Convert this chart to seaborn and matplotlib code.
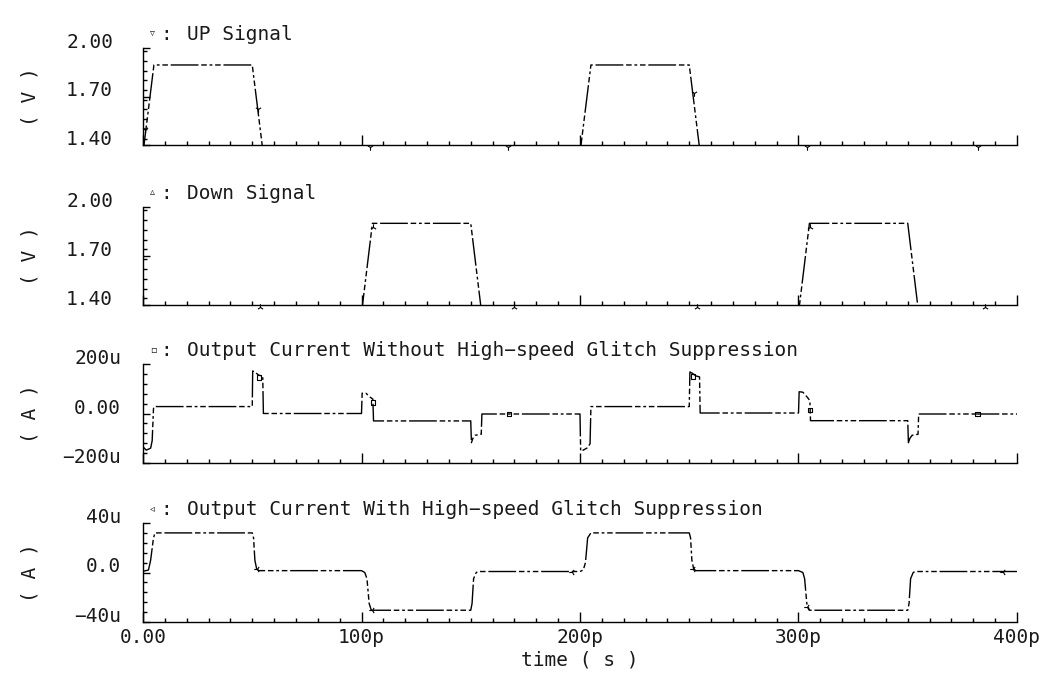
import matplotlib
matplotlib.use("Agg")
import matplotlib.pyplot as plt
import seaborn as sns
from matplotlib.ticker import MultipleLocator

# time in ps
up_t = [0, 5, 50, 55, 200, 205, 250, 255, 400]
up_v = [1.35, 1.895, 1.895, 1.35, 1.35, 1.895, 1.895, 1.35, 1.35]
up_mk_t = [1, 52.6, 104, 167, 252, 304, 382]
up_mk_v = [1.50, 1.62, 1.39, 1.39, 1.72, 1.39, 1.39]

dn_t = [0, 100, 105, 150, 155, 300, 305, 350, 355, 400]
dn_v = [1.35, 1.35, 1.90, 1.90, 1.35, 1.35, 1.90, 1.90, 1.35, 1.35]
dn_mk_t = [53.5, 105.3, 170, 253.5, 305.3, 385.5]
dn_mk_v = [1.39, 1.88, 1.39, 1.39, 1.88, 1.39]

# output current, uA
raw_t = [0, 1.5, 3.5, 4.2, 4.8, 5.2, 50, 50.2, 51.5, 53, 54.8, 55.1, 100, 100.3, 102,
         104, 105.2, 105.5, 150, 150.3, 151, 152, 154.8, 155.1, 200, 200.3, 201.5, 203.5,
         204.6, 205, 250, 250.3, 251.5, 253, 254.7, 255, 300, 300.3, 302, 304, 305.2,
         305.5, 350, 350.3, 351, 352, 354.7, 355, 400]
raw_i = [-135, -148, -140, -110, 20, 28, 28, 172, 165, 155, 150, 0, 0, 82, 82,
         66, 58, -30, -30, -118, -100, -88, -84, -2, -2, -152, -148, -138,
         -122, 28, 28, 168, 162, 152, 148, 2, 2, 88, 86, 66, 52,
         -29, -29, -118, -100, -88, -84, -2, -2]
raw_mk_t = [53, 105.3, 167.5, 251.7, 305.3, 382]
raw_mk_i = [145, 45, -2, 150, 15, -2]

sup_t = [0, 2.5, 3.5, 4.8, 5.5, 50, 50.6, 51.2, 52, 53, 100, 101.5, 102.5, 103.5,
         104.5, 150, 150.6, 151.3, 152.5, 153.5, 200, 201.5, 202.5, 203.5, 205, 250,
         250.6, 251.2, 252, 253, 300, 302, 302.8, 303.8, 305, 350, 350.6, 351.3,
         352.5, 353.5, 400]
sup_i = [1, 2, 10, 28, 32, 32, 28, 10, 3, 1.5, 1.5, 0, -5, -25,
         -30.5, -30.5, -25, -5, 0, 0.8, 0.8, 2, 8, 28, 32, 32,
         28, 10, 3, 1.5, 1.5, 0, -5, -25, -30.5, -30.5, -25, -5,
         0, 0.8, 0.8]
sup_mk_t = [52.2, 104.8, 196.3, 251.7, 303.9, 393.6]
sup_mk_i = [2.8, -30.5, 0.4, 2.8, -28, 0.4]

time_ticks = [0, 100, 200, 300, 400]
time_labels = ["0.00", "100p", "200p", "300p", "400p"]

sns.set_style("ticks")
plt.rcParams["font.family"] = ["DejaVu Sans Mono", "DejaVu Sans"]
plt.rcParams["font.size"] = 14
plt.rcParams["text.color"] = "#1a1a1a"

W, H = 1051, 677
fig = plt.figure(figsize=(W / 100, H / 100), dpi=100)
fig.patch.set_facecolor("white")

dash = (0, (20, 2, 4, 2, 2, 2, 4, 2))

panels = [
    dict(top=48, bot=145, t=up_t, y=up_v, mt=up_mk_t, my=up_mk_v, mk="1",
         lim=(1.40, 2.00), ticks=[1.40, 1.70, 2.00], labels=["1.40", "1.70", "2.00"],
         title="UP Signal", sym="\u25bf", unit="( V )", pad=21.6),
    dict(top=207, bot=305, t=dn_t, y=dn_v, mt=dn_mk_t, my=dn_mk_v, mk="2",
         lim=(1.40, 2.00), ticks=[1.40, 1.70, 2.00], labels=["1.40", "1.70", "2.00"],
         title="Down Signal", sym="\u25b5", unit="( V )", pad=21.6),
    dict(top=364, bot=463, t=raw_t, y=raw_i, mt=raw_mk_t, my=raw_mk_i, mk="s",
         lim=(-200, 200), ticks=[-200, 0, 200], labels=["\u2212200u", "0.00", "200u"],
         title="Output Current Without High\u2212speed Glitch Suppression", sym="\u25ab",
         unit="( A )", pad=15.8),
    dict(top=523, bot=622, t=sup_t, y=sup_i, mt=sup_mk_t, my=sup_mk_i, mk="3",
         lim=(-40, 40), ticks=[-40, 0, 40], labels=["\u221240u", "0.0", "40u"],
         title="Output Current With High\u2212speed Glitch Suppression", sym="\u25c3",
         unit="( A )", pad=15.8),
]

left, right = 143, 1017
for k, p in enumerate(panels):
    ax = fig.add_axes([left / W, 1 - p["bot"] / H, (right - left) / W,
                       (p["bot"] - p["top"]) / H])
    sns.lineplot(x=p["t"], y=p["y"], ax=ax, color="black", linewidth=1.0,
                 linestyle=dash, estimator=None, sort=False)
    if p["mk"] == "s":
        sns.scatterplot(x=p["mt"], y=p["my"], ax=ax, marker="s", s=10,
                        facecolor="none", edgecolor="black", linewidth=0.8,
                        clip_on=False, zorder=5)
    else:
        sns.scatterplot(x=p["mt"], y=p["my"], ax=ax, marker=p["mk"], s=22,
                        color="black", linewidth=0.8, clip_on=False, zorder=5)

    ax.set_xlim(0, 400)
    ax.set_ylim(*p["lim"])
    lo, hi = p["lim"]
    ax.set_yticks(p["ticks"], labels=p["labels"])
    ax.yaxis.set_minor_locator(MultipleLocator((hi - lo) / 10))
    ax.xaxis.set_minor_locator(MultipleLocator(10))
    if k == 3:
        ax.set_xticks(time_ticks, labels=time_labels)
    else:
        ax.set_xticks(time_ticks, labels=[""] * 5)

    for side in ["top", "right"]:
        ax.spines[side].set_visible(False)
    for side in ["left", "bottom"]:
        ax.spines[side].set_linewidth(1.0)
        ax.spines[side].set_color("black")
    ax.set_facecolor("white")
    ax.tick_params(axis="x", which="major", direction="in", length=7, width=1.0,
                   bottom=True, pad=4, labelsize=14, color="black",
                   labelcolor="#1a1a1a")
    ax.tick_params(axis="x", which="minor", direction="in", length=3, width=1.0,
                   bottom=True, color="black")
    ax.tick_params(axis="y", which="major", direction="in", length=5, width=1.0,
                   left=True, pad=p["pad"], labelsize=14, color="black",
                   labelcolor="#1a1a1a")
    ax.tick_params(axis="y", which="minor", direction="in", length=3, width=1.0,
                   left=True, color="black")
    plt.setp(ax.get_yticklabels(), va="baseline")
    ax.set_xlabel("")
    ax.set_ylabel("")

    ax.annotate(p["title"], xy=(0, 1), xycoords="axes fraction", xytext=(44, 8),
                textcoords="offset pixels", ha="left", va="baseline", fontsize=14)
    ax.annotate(":", xy=(0, 1), xycoords="axes fraction", xytext=(17, 8),
                textcoords="offset pixels", ha="left", va="baseline", fontsize=14)
    ax.annotate(p["sym"], xy=(0, 1), xycoords="axes fraction", xytext=(7, 12),
                textcoords="offset pixels", ha="left", va="baseline", fontsize=7,
                family="DejaVu Sans")

    fig.text(30 / W, 1 - (p["top"] + p["bot"]) / 2 / H, p["unit"], rotation=90,
             ha="center", va="center", fontsize=14)

fig.text(580 / W, 1 - 660 / H, "time ( s )", ha="center", va="center", fontsize=14)

fig.savefig("out.png", dpi=100, facecolor="white")
